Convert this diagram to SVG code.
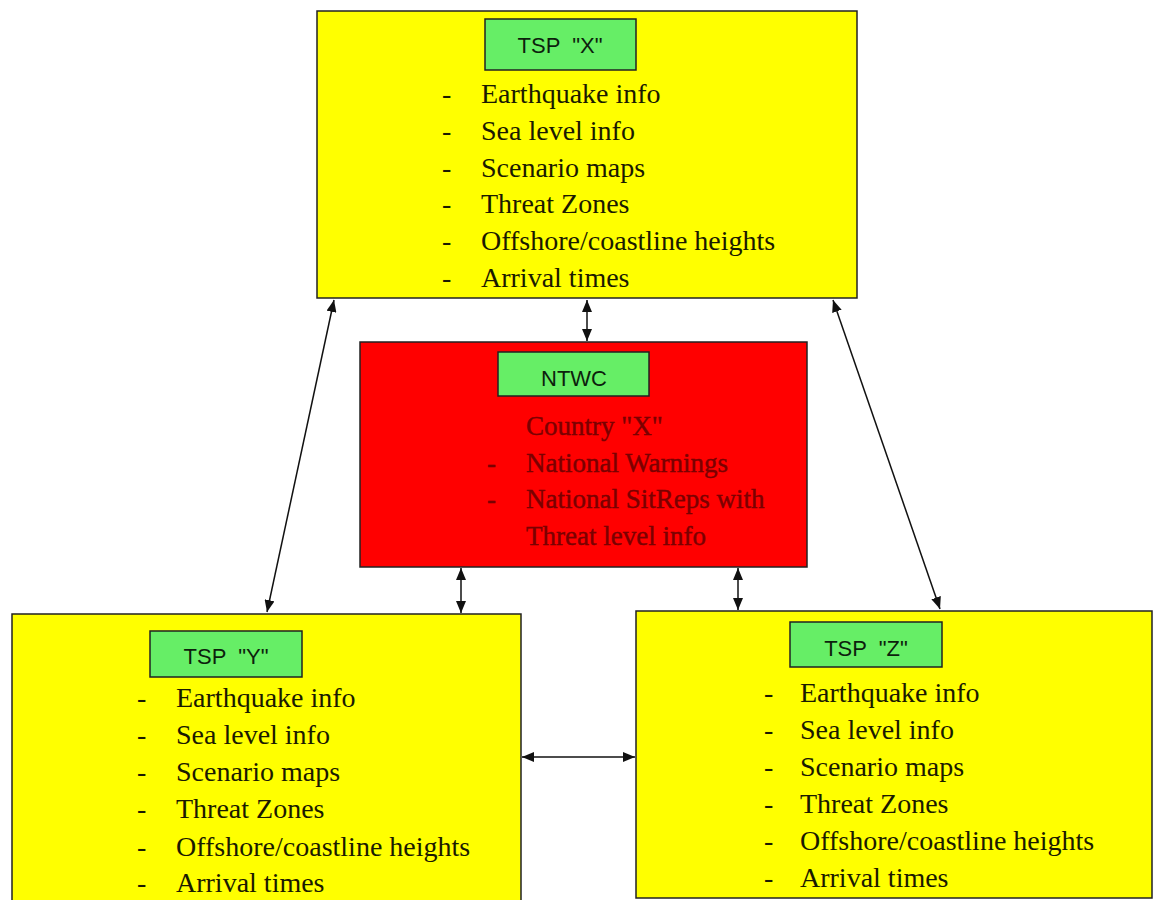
<svg xmlns="http://www.w3.org/2000/svg" width="1155" height="900" viewBox="0 0 1155 900">
<style>
.box{stroke:#222;stroke-width:1.5}
.yel{fill:#ffff00}
.red{fill:#ff0000}
.lbl{fill:#66ee66;stroke:#222;stroke-width:1.5}
.lt{font-family:"Liberation Sans",Arial,sans-serif;font-size:22px;fill:#0d1f0d;text-anchor:middle}
.it{font-family:"Liberation Serif","Times New Roman",serif;font-size:28px;fill:#1a1a00}
.rt{font-family:"Liberation Serif","Times New Roman",serif;font-size:27px;fill:#7a0000;stroke:#7a0000;stroke-width:0.4}
.con{stroke:#111;stroke-width:1.5;fill:none;marker-start:url(#ah);marker-end:url(#ah)}
</style>
<defs>
<marker id="ah" viewBox="0 0 12 10" refX="12" refY="5" markerWidth="12" markerHeight="10" markerUnits="userSpaceOnUse" orient="auto-start-reverse">
<path d="M0,0 L12,5 L0,10 z" fill="#111"/>
</marker>
</defs>
<rect width="1155" height="900" fill="#ffffff"/>

<g id="tsp-x">
<rect class="box yel" x="317" y="11" width="540" height="287"/>
<rect class="lbl" x="485" y="19" width="151" height="51"/>
<text class="lt" x="560" y="53" xml:space="preserve">TSP  "X"</text>
<g class="it">
<text x="442" y="103">-</text><text x="481" y="103">Earthquake info</text>
<text x="442" y="140">-</text><text x="481" y="140">Sea level info</text>
<text x="442" y="177">-</text><text x="481" y="177">Scenario maps</text>
<text x="442" y="213">-</text><text x="481" y="213">Threat Zones</text>
<text x="442" y="250">-</text><text x="481" y="250">Offshore/coastline heights</text>
<text x="442" y="287">-</text><text x="481" y="287">Arrival times</text>
</g>
</g>

<g id="ntwc">
<rect class="box red" x="360" y="342" width="447" height="225"/>
<rect class="lbl" x="498" y="352" width="151" height="44"/>
<text class="lt" x="574" y="386">NTWC</text>
<g class="rt">
<text x="526" y="435">Country "X"</text>
<text x="487" y="472">-</text><text x="526" y="472">National Warnings</text>
<text x="487" y="508">-</text><text x="526" y="508">National SitReps with</text>
<text x="526" y="545">Threat level info</text>
</g>
</g>

<g id="tsp-y">
<rect class="box yel" x="12" y="614" width="509" height="300"/>
<rect class="lbl" x="150" y="631" width="152" height="46"/>
<text class="lt" x="226" y="664" xml:space="preserve">TSP  "Y"</text>
<g class="it">
<text x="137" y="707">-</text><text x="176" y="707">Earthquake info</text>
<text x="137" y="744">-</text><text x="176" y="744">Sea level info</text>
<text x="137" y="781">-</text><text x="176" y="781">Scenario maps</text>
<text x="137" y="818">-</text><text x="176" y="818">Threat Zones</text>
<text x="137" y="856">-</text><text x="176" y="856">Offshore/coastline heights</text>
<text x="137" y="892">-</text><text x="176" y="892">Arrival times</text>
</g>
</g>

<g id="tsp-z">
<rect class="box yel" x="636" y="611" width="516" height="287"/>
<rect class="lbl" x="790" y="622" width="152" height="45"/>
<text class="lt" x="866" y="656" xml:space="preserve">TSP  "Z"</text>
<g class="it">
<text x="764" y="702">-</text><text x="800" y="702">Earthquake info</text>
<text x="764" y="739">-</text><text x="800" y="739">Sea level info</text>
<text x="764" y="776">-</text><text x="800" y="776">Scenario maps</text>
<text x="764" y="813">-</text><text x="800" y="813">Threat Zones</text>
<text x="764" y="850">-</text><text x="800" y="850">Offshore/coastline heights</text>
<text x="764" y="887">-</text><text x="800" y="887">Arrival times</text>
</g>
</g>

<g id="connectors">
<line class="con" x1="587" y1="300" x2="587" y2="341"/>
<line class="con" x1="334" y1="300" x2="267" y2="612"/>
<line class="con" x1="833" y1="300" x2="940" y2="609"/>
<line class="con" x1="461" y1="568" x2="461" y2="613"/>
<line class="con" x1="738" y1="568" x2="738" y2="610"/>
<line class="con" x1="522" y1="757" x2="635" y2="757"/>
</g>
</svg>
